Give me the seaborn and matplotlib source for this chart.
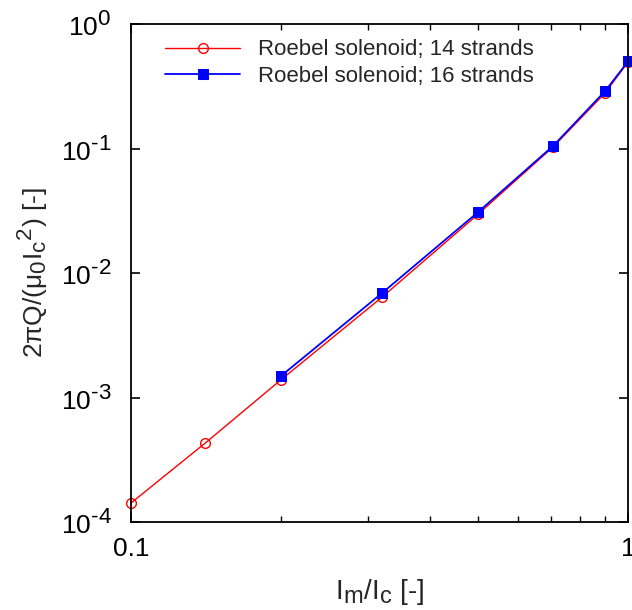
import numpy as np
import pandas as pd
import matplotlib
matplotlib.use("Agg")
import matplotlib.pyplot as plt
import matplotlib.ticker as mticker
import matplotlib._mathtext as _mt
import seaborn as sns

# Data
x14 = [0.1, 0.141, 0.2, 0.32, 0.5, 0.707, 0.9, 1.0]
y14 = [1.42e-4, 4.3e-4, 1.38e-3, 6.4e-3, 0.0298, 0.103, 0.28, 0.495]
x16 = [0.2, 0.32, 0.5, 0.707, 0.9, 1.0]
y16 = [1.48e-3, 6.9e-3, 0.031, 0.105, 0.29, 0.5]
labels = ["Roebel solenoid; 14 strands", "Roebel solenoid; 16 strands"]
xticks = [0.1, 1.0]
xticklabels = ["0.1", "1"]

# larger super/subscripts, like gnuplot enhanced text
_mt.SHRINK_FACTOR = 0.85

sns.set_theme(style="ticks")
plt.rcParams['font.family'] = ['Liberation Sans', 'DejaVu Sans']
plt.rcParams['mathtext.fontset'] = 'custom'
plt.rcParams['mathtext.rm'] = 'Liberation Sans'
plt.rcParams['mathtext.it'] = 'Liberation Sans'
plt.rcParams['mathtext.sf'] = 'Liberation Sans'
plt.rcParams['mathtext.default'] = 'regular'

fig = plt.figure(figsize=(6.32, 6.10), dpi=100)
ax = fig.add_axes([131/632, 1-522/610, (628-131)/632, (522-24)/610])

df14 = pd.DataFrame({"x": x14, "y": y14})
df16 = pd.DataFrame({"x": x16, "y": y16})
sns.lineplot(data=df14, x="x", y="y", ax=ax, color="red", lw=1.0,
             marker="o", markersize=7, markerfacecolor="none",
             markeredgecolor="red", markeredgewidth=1.0, label=labels[0])
sns.lineplot(data=df16, x="x", y="y", ax=ax, color="blue", lw=1.3,
             marker="s", markersize=7, markerfacecolor="blue",
             markeredgecolor="blue", label=labels[1])

ax.set_xscale("log")
ax.set_yscale("log")
ax.set_xlim(0.1, 1.0)
ax.set_ylim(1e-4, 1.0)
for s in ax.spines.values():
    s.set_linewidth(1.3)
    s.set_color("black")

ax.xaxis.set_major_locator(mticker.FixedLocator(xticks))
ax.xaxis.set_major_formatter(mticker.FixedFormatter(xticklabels))
ax.xaxis.set_minor_locator(mticker.LogLocator(base=10, subs=np.arange(2, 10)))
ax.xaxis.set_minor_formatter(mticker.NullFormatter())
ax.yaxis.set_major_locator(mticker.LogLocator(base=10, numticks=10))
ax.yaxis.set_minor_locator(mticker.NullLocator())


def yfmt(v, pos):
    e = int(round(np.log10(v)))
    return r"$\mathregular{10^{\text{%d}}}$" % e


ax.yaxis.set_major_formatter(mticker.FuncFormatter(yfmt))

ax.tick_params(axis="both", which="both", direction="in", top=True, right=True,
               colors="black", labelsize=19)
ax.tick_params(axis="both", which="major", length=6.5, width=1.2)
ax.tick_params(axis="y", which="major", pad=14)
ax.tick_params(axis="x", which="major", pad=11)
ax.tick_params(axis="x", which="minor", length=4, width=1.0)

for ln in ax.get_lines():
    ln.set_clip_on(False)

ax.set_xlabel(r"I$_m$/I$_c$ [-]", fontsize=20, labelpad=11)
ax.set_ylabel(r"2$\pi$Q/($\mu_0$I$_c$$^2$) [-]", fontsize=19, labelpad=8)

leg = ax.legend(loc="upper left", bbox_to_anchor=(0.068, 0.969), frameon=False,
                fontsize=16, handlelength=3.4, handletextpad=0.8,
                labelspacing=0.25, borderaxespad=0.0, borderpad=0.0)

fig.savefig("out.png", dpi=100)
